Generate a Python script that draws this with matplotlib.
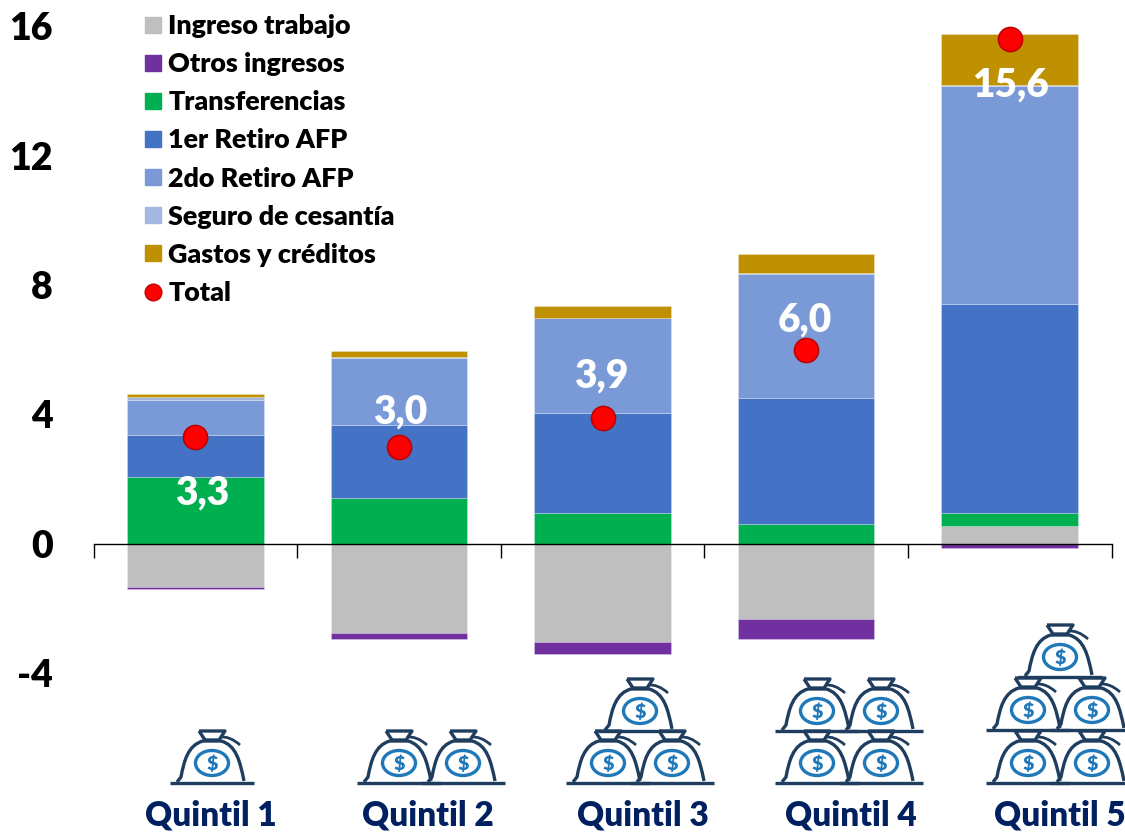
import matplotlib
matplotlib.use("Agg")
import matplotlib.pyplot as plt
from matplotlib.lines import Line2D
from matplotlib.patches import Ellipse, PathPatch
from matplotlib.path import Path
import numpy as np

WEIGHT = 'heavy'
plt.rcParams['font.family'] = ['Lato', 'DejaVu Sans']
plt.rcParams['font.weight'] = WEIGHT

categories = ["Quintil 1", "Quintil 2", "Quintil 3", "Quintil 4", "Quintil 5"]
ingreso_trabajo = [-1.33, -2.75, -3.03, -2.32, 0.54]
otros_ingresos = [-0.07, -0.20, -0.37, -0.62, -0.14]
transferencias = [2.07, 1.42, 0.96, 0.60, 0.42]
retiro1 = [1.30, 2.26, 3.09, 3.91, 6.46]
retiro2 = [1.08, 2.07, 2.92, 3.83, 6.74]
seguro = [0.08, 0.02, 0.02, 0.02, 0.02]
gastos = [0.10, 0.18, 0.35, 0.59, 1.58]
total = [3.3, 3.0, 3.9, 6.0, 15.6]
total_labels = ["3,3", "3,0", "3,9", "6,0", "15,6"]
yticks = [-4, 0, 4, 8, 12, 16]

series = [("Ingreso trabajo", ingreso_trabajo, "#BFBFBF"),
          ("Otros ingresos", otros_ingresos, "#7030A0"),
          ("Transferencias", transferencias, "#00B050"),
          ("1er Retiro AFP", retiro1, "#4472C4"),
          ("2do Retiro AFP", retiro2, "#7A9AD7"),
          ("Seguro de cesantía", seguro, "#A2B8E1"),
          ("Gastos y créditos", gastos, "#BF9000")]

W, H = 1125, 834
fig = plt.figure(figsize=(W / 100, H / 100), dpi=100, facecolor="white")
ax = fig.add_axes([93.5 / W, 0, (1112 - 94) / W, 1])
ppu = 32.35
zero = 543.8
ax.set_ylim(-(H - zero) / ppu, zero / ppu)
ax.set_xlim(-0.5, 4.5)

x = np.arange(len(categories))
pos = np.zeros(5)
neg = np.zeros(5)
for name, vals, col in series:
    v = np.array(vals)
    bottom = np.where(v >= 0, pos, neg)
    ax.bar(x, v, bottom=bottom, width=0.67, color=col,
           edgecolor=(1, 1, 1, 0.25), linewidth=0.7, zorder=2)
    pos += np.where(v >= 0, v, 0)
    neg += np.where(v < 0, v, 0)

ax.scatter(x, total, s=300, color="#FF0000", edgecolor="#C00000", linewidth=1.2, zorder=5)

label_offsets = [(7, -56), (1, 35), (-1, 42), (-1, 30), (1, -46)]
for i, (t, lab) in enumerate(zip(total, total_labels)):
    dx, dy = label_offsets[i]
    ax.annotate(lab, xy=(i, t), xytext=(dx * 0.72, dy * 0.72), textcoords="offset points",
                ha="center", va="center", color="white", fontsize=28, fontweight=WEIGHT, zorder=6)

for s in ("left", "right", "top"):
    ax.spines[s].set_visible(False)
ax.spines["bottom"].set_position(("data", 0))
ax.spines["bottom"].set_zorder(4)
ax.spines["bottom"].set_linewidth(1.0)
ax.set_xticks(np.arange(-0.5, 5, 1))
ax.set_xticklabels([])
ax.tick_params(axis="x", direction="out", length=10, width=1.0, color="black")
ax.set_yticks(yticks)
ax.set_yticklabels([str(t) for t in yticks], fontsize=27, fontweight=WEIGHT, color="black")
ax.tick_params(axis="y", length=0, pad=29.5)

handles = [Line2D([], [], ls="none", marker="s", ms=11.5, color=c, mec=c, label=n) for n, _, c in series]
handles.append(Line2D([], [], ls="none", marker="o", ms=12, color="#FF0000", mec="#C00000", label="Total"))
fig.legend(handles=handles, loc="upper left", bbox_to_anchor=(142 / W, 1 - 14 / H), frameon=False,
           fontsize=19.4, labelspacing=0.525, handlelength=0.8, handletextpad=0.17, borderpad=0, borderaxespad=0)

# overlay in pixel coordinates for the money-bag decoration
ov = fig.add_axes([0, 0, 1, 1], facecolor="none")
ov.set_xlim(0, W)
ov.set_ylim(H, 0)
ov.axis("off")
NAVY = "#1F3E5F"
BLUE = "#1F78B8"
C4 = Path.CURVE4


def bag(cx, base):
    lw = 2.4
    body = Path([(cx - 35, base - 1), (cx - 31, base - 6),
                 (cx - 28, base - 22), (cx - 24, base - 38), (cx - 9, base - 42),
                 (cx + 9, base - 42),
                 (cx + 24, base - 38), (cx + 28, base - 22), (cx + 32, base - 2)],
                [Path.MOVETO, Path.LINETO, C4, C4, C4, Path.LINETO, C4, C4, C4])
    ov.add_patch(PathPatch(body, fc="none", ec=NAVY, lw=lw))
    neck = Path([(cx - 13, base - 52), (cx + 13, base - 52), (cx + 7, base - 43), (cx - 7, base - 43), (cx - 13, base - 52)])
    ov.add_patch(PathPatch(neck, fc="none", ec=NAVY, lw=lw, joinstyle="round"))
    tail = Path([(cx + 8, base - 46), (cx + 18, base - 47), (cx + 28, base - 38)],
                [Path.MOVETO, Path.CURVE3, Path.CURVE3])
    ov.add_patch(PathPatch(tail, fc="none", ec=NAVY, lw=2))
    ov.add_patch(Ellipse((cx, base - 20), 33, 25, fc="none", ec=BLUE, lw=2.4))
    ov.text(cx, base - 20, "$", color=BLUE, fontsize=14, fontweight=WEIGHT, ha="center", va="center_baseline")


def baseline(x0, x1, y):
    ov.plot([x0, x1], [y, y], color=NAVY, lw=2.4, solid_capstyle="butt")


bag_rows = [[(212, 783)],
            [(399, 783), (463, 783)],
            [(608, 783), (672, 783), (640, 731)],
            [(817, 783), (881, 783), (817, 731), (881, 731)],
            [(1028, 783), (1092, 783), (1028, 730), (1092, 730), (1060, 677)]]
for group in bag_rows:
    for cx, base in group:
        bag(cx, base)
        baseline(cx - 42, cx + 42, base)

label_x = [211, 428, 643, 851, 1060]
for lx, c in zip(label_x, categories):
    ov.text(lx, 816, c, color="#002060", fontsize=24, fontweight=WEIGHT, ha="center", va="center")

fig.savefig("out.png", dpi=100)
